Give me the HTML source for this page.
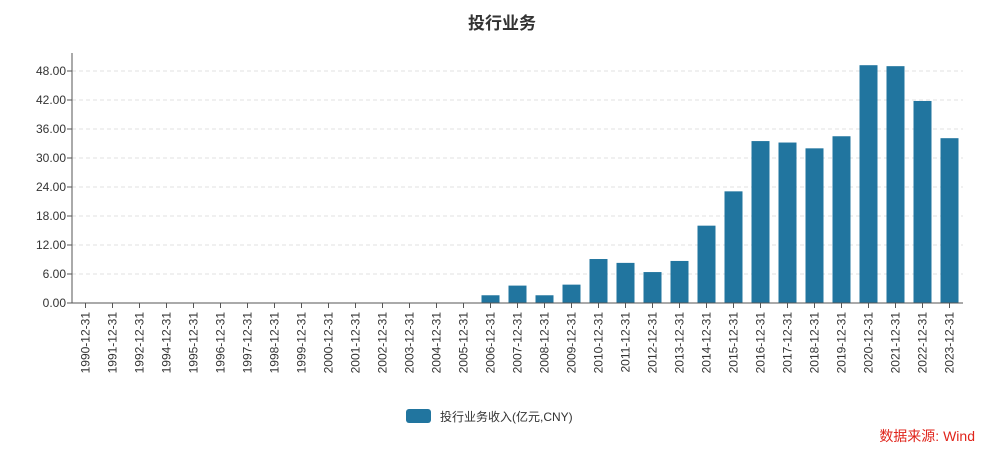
<!DOCTYPE html>
<html><head><meta charset="utf-8">
<style>
body{margin:0;background:#fff;width:1004px;height:455px;overflow:hidden;font-family:"Liberation Sans","Noto Sans CJK SC",sans-serif;}
</style></head>
<body>
<svg id="chart" width="1004" height="455" xmlns="http://www.w3.org/2000/svg" font-family="'Liberation Sans','Noto Sans CJK SC',sans-serif">
<text x="502" y="29" text-anchor="middle" font-size="17" font-weight="bold" fill="#333">投行业务</text>
<g id="grid"></g><g id="bars"></g><g id="axes"></g>
<g>
<rect x="406" y="409" width="25" height="14" rx="3" fill="#21759f"/>
<text x="440" y="421" font-size="12" fill="#333">投行业务收入(亿元,CNY)</text>
</g>
<text x="975" y="441" text-anchor="end" font-size="14" fill="#e0241b">数据来源: Wind</text>
</svg>
<script>
const categories=["1990-12-31","1991-12-31","1992-12-31","1994-12-31","1995-12-31","1996-12-31","1997-12-31","1998-12-31","1999-12-31","2000-12-31","2001-12-31","2002-12-31","2003-12-31","2004-12-31","2005-12-31","2006-12-31","2007-12-31","2008-12-31","2009-12-31","2010-12-31","2011-12-31","2012-12-31","2013-12-31","2014-12-31","2015-12-31","2016-12-31","2017-12-31","2018-12-31","2019-12-31","2020-12-31","2021-12-31","2022-12-31","2023-12-31"];
const values=[0,0,0,0,0,0,0,0,0,0,0,0,0,0,0,1.6,3.6,1.6,3.8,9.1,8.3,6.4,8.7,16.0,23.1,33.5,33.2,32.0,34.5,49.2,49.0,41.8,34.1];
const yTicks=[0,6,12,18,24,30,36,42,48];
const NS="http://www.w3.org/2000/svg";
const x0=72,x1=963,yTop=53,y0=303,yMaxVal=48,yMaxPx=71;
const band=(x1-x0)/categories.length;
function xScale(i){return x0+band*(i+0.5);}
function yScale(v){return y0-(y0-yMaxPx)*v/yMaxVal;}
function mk(tag,attrs,parent){const e=document.createElementNS(NS,tag);for(const k in attrs)e.setAttribute(k,attrs[k]);parent.appendChild(e);return e;}
const grid=document.getElementById('grid'),bars=document.getElementById('bars'),axes=document.getElementById('axes');
yTicks.forEach(t=>{
 const y=yScale(t);
 if(t>0){const g=mk('line',{x1:x0,x2:x1,y1:y,y2:y,stroke:'#e0e0e0','stroke-dasharray':'4,3'},grid);
 
 }
 const tk=mk('line',{x1:x0-5,x2:x0,y1:y,y2:y,stroke:'#555'},axes);
 
 
 const lb=mk('text',{x:x0-6,y:y+4,'text-anchor':'end','font-size':'12',fill:'#333'},axes);
 lb.textContent=t.toFixed(2);
 
 
});
const bw=18;
categories.forEach((c,i)=>{
 const cx=xScale(i);
 if(values[i]>0){const r=mk('rect',{x:cx-bw/2,y:yScale(values[i]),width:bw,height:y0-yScale(values[i]),fill:'#21759f'},bars);
 
 }
 const tk=mk('line',{x1:cx,x2:cx,y1:y0,y2:y0+5,stroke:'#555'},axes);
 
 
 const lb=mk('text',{x:0,y:0,'text-anchor':'end','font-size':'12',fill:'#333',transform:`translate(${cx+4},${y0+9}) rotate(-90)`},axes);
 lb.textContent=c;
 
 
});
const ya=mk('line',{x1:x0,x2:x0,y1:yTop,y2:y0,stroke:'#555'},axes);


const xa=mk('line',{x1:x0-5,x2:x1,y1:y0,y2:y0,stroke:'#555'},axes);


</script>
</body></html>
